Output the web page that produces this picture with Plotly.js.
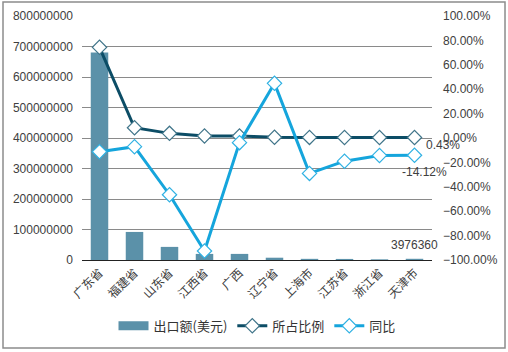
<!DOCTYPE html>
<html><head><meta charset="utf-8">
<script src="https://cdn.plot.ly/plotly-3.0.1.min.js"></script>
<style>html,body{margin:0;padding:0;background:#fff}#c{width:508px;height:352px}</style>
</head><body><div id="c"></div>
<script>
var provinces = ["广东省","福建省","山东省","江西省","广西","辽宁省","上海市","江苏省","浙江省","天津市"];
var exportUSD = [680000000, 92000000, 43000000, 20000000, 20000000, 7500000, 3800000, 3500000, 2200000, 3976360];
var share = [0.743, 0.084, 0.038, 0.017, 0.016, 0.006, 0.005, 0.0045, 0.0044, 0.0043];
var yoy = [-0.112, -0.071, -0.465, -0.926, -0.038, 0.448, -0.29, -0.19, -0.143, -0.1412];
var yTicks = [0,100000000,200000000,300000000,400000000,500000000,600000000,700000000,800000000];
var yTickText = ["0","100000000","200000000","300000000","400000000","500000000","600000000","700000000","800000000"];
var y2Ticks = [-1,-0.8,-0.6,-0.4,-0.2,0,0.2,0.4,0.6,0.8,1];

var n = provinces.length;
var last = n - 1;
var font = {family: "Liberation Sans, Arial, sans-serif", size: 12, color: "#404040"};
var cjk = "Noto Sans CJK SC, sans-serif";
var barColor = "#5b91a9";

var traces = [
  {type: "bar", name: "出口额(美元)", x: provinces, y: exportUSD, marker: {color: barColor}, width: 0.5, showlegend: false},
  {type: "scatter", mode: "lines", name: "出口额(美元)", x: [provinces[0]], y: [null],
   line: {color: barColor, width: 9}, hoverinfo: "skip"},
  {type: "scatter", mode: "lines+markers", name: "所占比例", x: provinces, y: share, yaxis: "y2",
   line: {color: "#0c4d66", width: 3},
   marker: {symbol: "diamond", size: 11, color: "#ffffff", line: {color: "#3f7489", width: 1.2}}},
  {type: "scatter", mode: "lines+markers", name: "同比", x: provinces, y: yoy, yaxis: "y2",
   line: {color: "#15a5dc", width: 3},
   marker: {symbol: "diamond", size: 11, color: "#ffffff", line: {color: "#2fb1e3", width: 1.2}}}
];

var layout = {
  width: 508, height: 352,
  margin: {l: 82, r: 76, t: 16, b: 92, autoexpand: false},
  paper_bgcolor: "#ffffff", plot_bgcolor: "#ffffff",
  font: font,
  showlegend: true,
  legend: {orientation: "h", x: 0.5, xanchor: "center", y: -0.27, yanchor: "middle",
           font: {family: cjk, size: 13, color: "#333"}, itemwidth: 30, tracegroupgap: 0},
  bargap: 0.5,
  xaxis: {type: "category", range: [-0.5, n - 0.5], tickangle: -45, tickfont: {family: cjk, size: 12, color: "#404040"},
          showline: true, linecolor: "#222", linewidth: 1, ticks: "", showgrid: false, fixedrange: true, automargin: false},
  yaxis: {range: [0, 800000000], tickvals: yTicks, ticktext: yTickText, showgrid: true, automargin: false,
          gridcolor: "#8a8a8a", gridwidth: 1, zeroline: false, ticks: "", tickfont: font, ticklabelstandoff: 8},
  yaxis2: {range: [-1, 1], tickvals: y2Ticks, tickformat: ".2%", overlaying: "y", side: "right", automargin: false,
           showgrid: false, zeroline: false, ticks: "", tickfont: font, ticklabelstandoff: 10},
  annotations: [
    {x: provinces[last], y: share[last], yref: "y2", text: (share[last]*100).toFixed(2) + "%", showarrow: false,
     xshift: 28, yshift: -8, font: font},
    {x: provinces[last], y: yoy[last], yref: "y2", text: (yoy[last]*100).toFixed(2) + "%", showarrow: false,
     xshift: 10, yshift: -17, font: font},
    {x: provinces[last], y: exportUSD[last], yref: "y", text: String(exportUSD[last]), showarrow: false,
     xshift: 0, yshift: 14, font: font}
  ],
  shapes: [
    {type: "rect", xref: "paper", yref: "paper", x0: -0.2257, x1: 1.2086, y0: -0.3607, y1: 1.057,
     line: {color: "#8c8c8c", width: 1.5}}
  ]
};

Plotly.newPlot("c", traces, layout, {displayModeBar: false, staticPlot: true});
</script></body></html>
